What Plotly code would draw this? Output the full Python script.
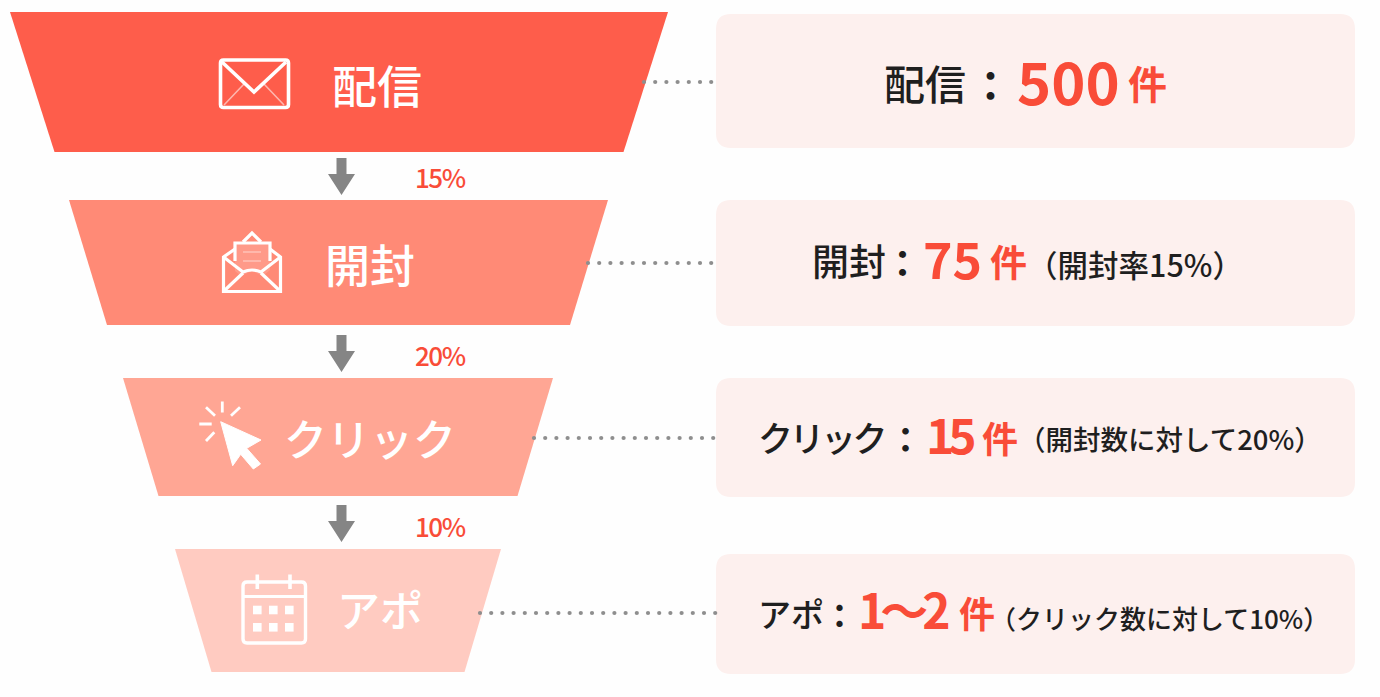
import numpy as np
import plotly.graph_objects as go

# funnel contents
stages = ['配信', '開封', 'クリック', 'アポ']
counts = ['500', '75', '15', '1〜2']
unit = '件'
notes = ['', '（開封率15%）', '（開封数に対して20%）', '（クリック数に対して10%）']
step_rates = ['15%', '20%', '10%']
top_widths = [658, 539, 430, 326]
bottom_widths = [569, 463, 359, 253]

FONT = 'Noto Sans CJK JP'
RED = '#F94C38'
INK = '#1F1F1F'
GREY = '#858585'
WHITE = '#FFFFFF'

# layout, in picture pixels
stage_colors = ['#FE5D4B', '#FF8A76', '#FFA694', '#FFCBC1']
stage_top = [12, 200, 378, 549]
stage_bottom = [152, 325, 496, 672]
stage_center = [339, 338.5, 338, 338]
stage_text_x = [377, 370, 370, 380]
stage_text_y = [84, 263, 437, 608]
stage_text_size = [45, 45, 43, 43]
card_top = [14, 200, 378, 554]
card_bottom = [148, 326, 497, 674]
leader_y = [82, 263, 438, 613]
leader_start = [644, 588, 534, 480]
arrow_top = [158, 335, 505]
rate_y = [176, 354, 525]

label_x = [883, 811, 757, 757]
label_y = [82, 260, 436, 613]
label_size = [41, 37, 35, 33]
label_track = [0, 0, -3.5, 0]
colon_x = [990, 902, 905, 839]
colon_y = [83, 262, 437, 614]
count_x = [1016, 922, 925, 857]
count_y = [80, 257, 433, 608]
count_size = [58, 50, 48, 48]
count_track = [0, 0, -6, -6]
unit_x = [1127, 989, 981, 958]
unit_y = [82, 261, 437, 612]
unit_size = [39, 37, 36, 36]
note_x = [0, 1026, 1017, 989]
note_y = [0, 264, 438, 617]
note_size = [0, 30.5, 27.5, 26]


def rounded_rect(x0, y0, x1, y1, r):
    return (f'M {x0+r} {y0} L {x1-r} {y0} Q {x1} {y0} {x1} {y0+r} '
            f'L {x1} {y1-r} Q {x1} {y1} {x1-r} {y1} '
            f'L {x0+r} {y1} Q {x0} {y1} {x0} {y1-r} '
            f'L {x0} {y0+r} Q {x0} {y0} {x0+r} {y0} Z')


def icon(path, width=3.0, fill=None, opacity=1.0):
    return dict(type='path', path=path, xref='x', yref='y', layer='above',
                line=dict(color=WHITE, width=width),
                fillcolor=fill if fill else 'rgba(0,0,0,0)', opacity=opacity)


def solid(path):
    return dict(type='path', path=path, xref='x', yref='y', layer='above',
                line=dict(width=0), fillcolor=WHITE)


def label(x, y, text, size, color, weight, anchor='left', track=0):
    if track:
        text = f'<span style="letter-spacing:{track}px">{text}</span>'
    return dict(x=x, y=y, text=text, xref='x', yref='y', showarrow=False,
                xanchor=anchor, yanchor='middle', borderpad=0,
                font=dict(family=FONT, size=size, color=color, weight=weight))


fig = go.Figure()

# funnel blocks
for i, stage in enumerate(stages):
    c = stage_center[i]
    tw, bw = top_widths[i] / 2, bottom_widths[i] / 2
    fig.add_trace(go.Scatter(
        x=[c - tw, c + tw, c + bw, c - bw, c - tw],
        y=[stage_top[i], stage_top[i], stage_bottom[i], stage_bottom[i], stage_top[i]],
        mode='lines', fill='toself', fillcolor=stage_colors[i],
        line=dict(width=0), name=stage, hoverinfo='skip'))

# dotted leaders
for i in range(len(stages)):
    xs = np.arange(leader_start[i], 716.5, 11.2)
    fig.add_trace(go.Scatter(
        x=xs, y=[leader_y[i]] * len(xs), mode='markers',
        marker=dict(size=4.2, color='#8E8E8E'), hoverinfo='skip'))

shapes = []
annotations = []

# detail cards
for i in range(len(stages)):
    shapes.append(dict(type='path', path=rounded_rect(716, card_top[i], 1355, card_bottom[i], 15),
                       xref='x', yref='y', layer='below', line=dict(width=0),
                       fillcolor='#FDF0EE'))

# arrows between the blocks
for top in arrow_top:
    a = 341.5
    shapes.append(dict(
        type='path', xref='x', yref='y', layer='above', line=dict(width=0), fillcolor=GREY,
        path=(f'M {a-5} {top} L {a+5} {top} L {a+5} {top+16} L {a+13.5} {top+16} '
              f'L {a} {top+37} L {a-13.5} {top+16} L {a-5} {top+16} Z')))

# mail icon
shapes.append(icon(rounded_rect(220.5, 60, 288.5, 107.5, 3), 3.6))
shapes.append(icon('M 222 62 L 254 92 L 286 62', 3.6))
shapes.append(icon('M 224 105 L 244 84 M 284 105 L 264 84', 1.6, opacity=0.55))

# opened mail icon
shapes.append(icon('M 235 243 L 235 271 L 241 276 L 252 271 L 263 276 L 270 270 L 270 243 Z',
                   0, fill='rgba(255,255,255,0.14)'))
shapes.append(icon('M 235 261 L 235 243 L 270 243 L 270 261', 3.2))
shapes.append(icon('M 243 242 L 252 233 L 261 242', 3.2))
shapes.append(icon('M 235 249 L 223.5 257 L 223.5 291.5 L 280.5 291.5 L 280.5 257 L 270 249', 3.2))
shapes.append(icon('M 223.5 257 L 243 272 Q 252 268 261 272 L 280.5 257', 3.2))
shapes.append(icon('M 225 290 L 243 273 M 279 290 L 261 273', 3.2))
shapes.append(icon('M 243 252 L 261 252 M 243 261 L 261 261', 2, opacity=0.3))

# cursor icon
shapes.append(icon('M 220.7 421.7 L 261 440 L 246.7 448.3 L 260.5 464 L 253.3 469 '
                   'L 240.7 454.3 L 232.7 465.7 Z', 1, fill=WHITE))
shapes.append(icon('M 222.3 401.5 L 222.3 412.5 M 206 407.3 L 215 415.7 M 240 407.3 L 231 415.7 '
                   'M 199.3 424 L 211.7 424 M 206 441 L 214.3 432.3', 2.8))

# calendar icon
shapes.append(icon(rounded_rect(243, 582, 305.5, 643, 4), 3.4))
shapes.append(icon('M 243 596.5 L 305.5 596.5', 3))
shapes.append(icon('M 257.3 574.5 L 257.3 589 M 290 574.5 L 290 589', 3.6))
for cy in [610, 627.3]:
    for cx in [257.3, 273.3, 289.3]:
        shapes.append(solid(f'M {cx-4.3} {cy-4.3} L {cx+4.3} {cy-4.3} L {cx+4.3} {cy+4.3} '
                            f'L {cx-4.3} {cy+4.3} Z'))

# block names, step rates and card texts
for i, stage in enumerate(stages):
    annotations.append(label(stage_text_x[i], stage_text_y[i], stage, stage_text_size[i],
                             WHITE, 500, 'center'))
    annotations.append(label(label_x[i], label_y[i], stage, label_size[i], INK, 500,
                             track=label_track[i]))
    annotations.append(label(colon_x[i], colon_y[i], '：', label_size[i], INK, 700, 'center'))
    annotations.append(label(count_x[i], count_y[i], counts[i], count_size[i], RED, 700,
                             track=count_track[i]))
    annotations.append(label(unit_x[i], unit_y[i], unit, unit_size[i], RED, 700))
    if notes[i]:
        annotations.append(label(note_x[i], note_y[i], notes[i], note_size[i], INK, 500))

for rate, y in zip(step_rates, rate_y):
    annotations.append(label(440, y, rate, 26, RED, 500, 'center', track=-1.5))

fig.update_layout(
    width=1380, height=697,
    margin=dict(l=0, r=0, t=0, b=0),
    paper_bgcolor='#FEFEFE', plot_bgcolor='#FEFEFE',
    showlegend=False,
    shapes=shapes, annotations=annotations,
    xaxis=dict(range=[0, 1380], visible=False, fixedrange=True),
    yaxis=dict(range=[697, 0], visible=False, fixedrange=True),
)

fig.write_html('out.html', config={'displayModeBar': False},
               post_script="document.body.style.margin='0';")
